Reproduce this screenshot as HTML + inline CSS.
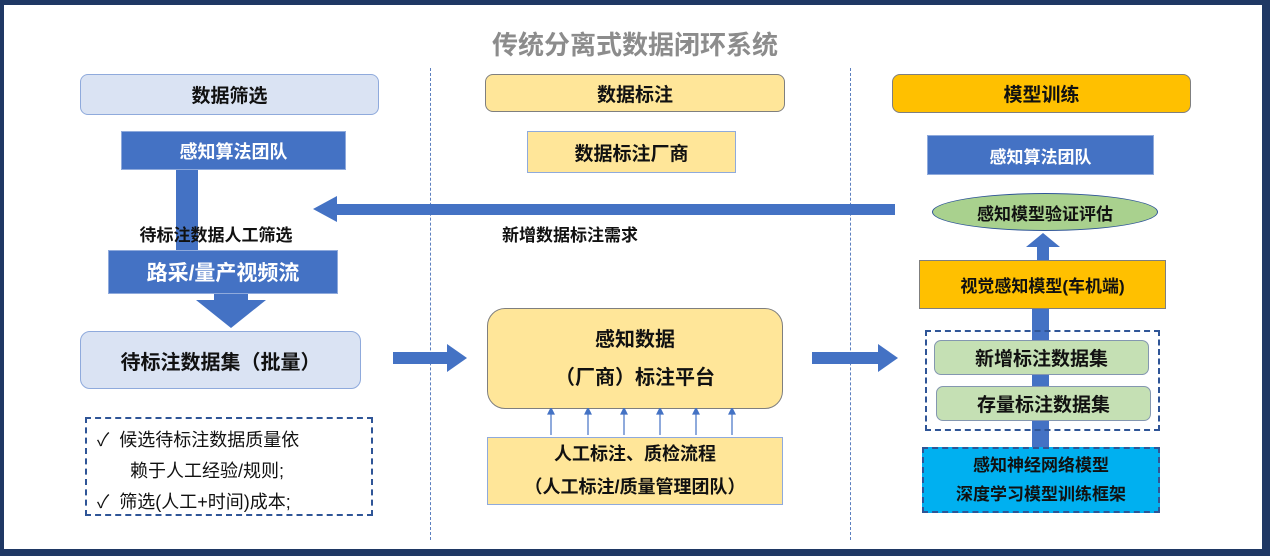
<!DOCTYPE html>
<html><head><meta charset="utf-8"><style>
*{margin:0;padding:0;box-sizing:border-box}
body{width:1270px;height:556px;background:#1f3864;position:relative;overflow:hidden;font-family:"Liberation Sans","Noto Sans CJK SC",sans-serif;font-weight:bold;color:#111}
#c{position:absolute;left:4px;top:5px;width:1258px;height:544px;background:#fff}
.a{position:absolute;display:flex;align-items:center;justify-content:center;text-align:center}
.blue{background:#4472c4;color:#fff;border:1px solid #8faadc}
.y{background:#ffe699;border:1.5px solid #7f7f7f}
.bar{position:absolute;background:#4472c4}
.vd{position:absolute;top:68px;height:472px;border-left:1.5px dashed #5b7fbf}
</style></head><body>
<div id="c"></div>
<div class="a" style="left:420px;top:25px;width:430px;height:36px;font-size:26px;color:#8c8c8c">传统分离式数据闭环系统</div>
<div class="vd" style="left:430px"></div>
<div class="vd" style="left:850px"></div>

<!-- left column -->
<div class="a" style="left:80px;top:74px;width:299px;height:41px;background:#dae3f3;border:1.5px solid #8faadc;border-radius:8px;font-size:19px">数据筛选</div>
<div class="a blue" style="left:121px;top:131px;width:225px;height:39px;font-size:18px">感知算法团队</div>
<div class="bar" style="left:176px;top:170px;width:22px;height:80px"></div>
<div class="a" style="left:96px;top:220px;width:240px;height:26px;font-size:17px;background:transparent">待标注数据人工筛选</div>
<div class="a blue" style="left:108px;top:250px;width:230px;height:44px;font-size:21px">路采/量产视频流</div>
<div class="bar" style="left:214px;top:294px;width:34px;height:8px"></div>
<svg style="position:absolute;left:196px;top:300px" width="70" height="30"><polygon points="0,0 70,0 35,28" fill="#4472c4"/></svg>
<div class="a" style="left:80px;top:331px;width:281px;height:58px;background:#dae3f3;border:1.5px solid #8faadc;border-radius:10px;font-size:20px">待标注数据集（批量）</div>
<div style="position:absolute;left:85px;top:417px;width:288px;height:99px;border:2px dashed #2f5597;font-weight:normal;font-size:18px;line-height:31px;padding:6px 0 0 10px">
<div>✓&nbsp;&nbsp;候选待标注数据质量依</div>
<div style="padding-left:33px">赖于人工经验/规则;</div>
<div>✓&nbsp;&nbsp;筛选(人工+时间)成本;</div>
</div>
<svg style="position:absolute;left:393px;top:344px" width="74" height="28"><rect x="0" y="8" width="56" height="12" fill="#4472c4"/><polygon points="54,0 74,14 54,28" fill="#4472c4"/></svg>

<!-- middle -->
<div class="a y" style="left:485px;top:74px;width:300px;height:38px;border-radius:8px;font-size:19px">数据标注</div>
<div class="a y" style="left:527px;top:131px;width:209px;height:42px;border-color:#8faadc;font-size:19px">数据标注厂商</div>
<svg style="position:absolute;left:313px;top:196px" width="582" height="26"><rect x="20" y="8" width="562" height="11" fill="#4472c4"/><polygon points="0,13 24,0 24,26" fill="#4472c4"/></svg>
<div class="a" style="left:470px;top:220px;width:200px;height:26px;font-size:17px">新增数据标注需求</div>
<div class="a y" style="left:487px;top:308px;width:296px;height:101px;border-radius:18px;font-size:20px;flex-direction:column;line-height:38px">感知数据<br>（厂商）标注平台</div>
<svg style="position:absolute;left:540px;top:408px" width="210" height="28"><g stroke="#4472c4" stroke-width="1.2" fill="#4472c4">
<line x1="11" y1="27" x2="11" y2="4"/><polygon points="8,6 11,0 14,6"/>
<line x1="48" y1="27" x2="48" y2="4"/><polygon points="45,6 48,0 51,6"/>
<line x1="84" y1="27" x2="84" y2="4"/><polygon points="81,6 84,0 87,6"/>
<line x1="120" y1="27" x2="120" y2="4"/><polygon points="117,6 120,0 123,6"/>
<line x1="156" y1="27" x2="156" y2="4"/><polygon points="153,6 156,0 159,6"/>
<line x1="192" y1="27" x2="192" y2="4"/><polygon points="189,6 192,0 195,6"/></g></svg>
<div class="a y" style="left:487px;top:437px;width:296px;height:68px;border-color:#8faadc;font-size:18px;flex-direction:column;line-height:33px">人工标注、质检流程<br>（人工标注/质量管理团队）</div>
<svg style="position:absolute;left:812px;top:344px" width="86" height="28"><rect x="0" y="8" width="68" height="12" fill="#4472c4"/><polygon points="66,0 86,14 66,28" fill="#4472c4"/></svg>

<!-- right -->
<div class="a" style="left:892px;top:74px;width:299px;height:39px;background:#ffc000;border:1.5px solid #7f7f7f;border-radius:8px;font-size:19px">模型训练</div>
<div class="a blue" style="left:927px;top:135px;width:227px;height:40px;font-size:17px">感知算法团队</div>
<div class="a" style="left:932px;top:193px;width:226px;height:38px;background:#a9d18e;border:1.5px solid #2f5597;border-radius:50%;font-size:17px">感知模型验证评估</div>
<svg style="position:absolute;left:1026px;top:233px" width="34" height="30"><polygon points="17,0 34,14 23,14 23,30 11,30 11,14 0,14" fill="#4472c4"/></svg>
<div class="bar" style="left:1032px;top:306px;width:17px;height:145px"></div>
<div class="a" style="left:919px;top:260px;width:247px;height:49px;background:#ffc000;border:1.5px solid #7f7f7f;font-size:17px">视觉感知模型(车机端)</div>
<div style="position:absolute;left:925px;top:330px;width:235px;height:101px;border:2px dashed #2f5597"></div>
<div class="a" style="left:934px;top:340px;width:215px;height:35px;background:#c5e0b4;border:1.5px solid #8497b0;border-radius:7px;font-size:19px">新增标注数据集</div>
<div class="a" style="left:936px;top:386px;width:215px;height:35px;background:#c5e0b4;border:1.5px solid #8497b0;border-radius:7px;font-size:19px">存量标注数据集</div>
<div class="a" style="left:922px;top:447px;width:238px;height:66px;background:#00b0f0;border:2px dashed #2f5597;font-size:17px;flex-direction:column;line-height:29px">感知神经网络模型<br>深度学习模型训练框架</div>
</body></html>
